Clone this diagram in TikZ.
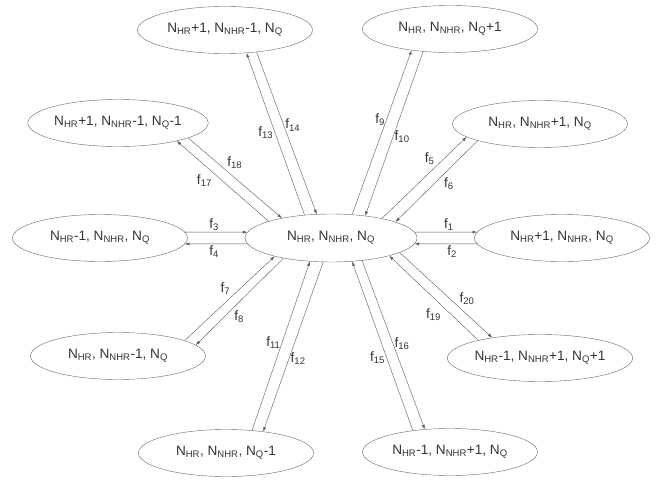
\documentclass[tikz,border=0pt]{standalone}
\usepackage{fontspec}
\setmainfont{Liberation Sans}
\usetikzlibrary{arrows.meta,shapes.geometric}
\newcommand{\NN}[3]{N\textsubscript{HR}#1, N\textsubscript{NHR}#2, N\textsubscript{Q}#3}
\newcommand{\ff}[1]{f\textsubscript{#1}}
\begin{document}
\begin{tikzpicture}[x=1pt,y=1pt,
    state/.style={draw=black!60,ellipse,minimum width=175pt,minimum height=47pt,inner sep=0pt,text=black!80,font=\fontsize{13.6}{15}\selectfont},
    flow/.style={draw=black!65,-{Latex[length=4.5pt,width=3pt]}},
    lbl/.style={text=black!80,font=\fontsize{13.6}{15}\selectfont,inner sep=1.5pt}]
    \useasboundingbox (0,0) rectangle (671,483);
    \node[state,minimum width=172pt,minimum height=48pt] (c) at (331,245) {\NN{}{}{}};
    \node[state] (tl) at (225,453) {\NN{+1}{-1}{}};
    \node[state] (tr) at (450,454) {\NN{}{}{+1}};
    \node[state] (ul) at (118,360) {\NN{+1}{-1}{-1}};
    \node[state] (ur) at (540,359) {\NN{}{+1}{}};
    \node[state] (l) at (100,245) {\NN{-1}{}{}};
    \node[state] (r) at (562,245) {\NN{+1}{}{}};
    \node[state] (ll) at (118,127) {\NN{}{-1}{}};
    \node[state] (bl) at (226,30) {\NN{}{}{-1}};
    \node[state] (lr) at (540,125) {\NN{-1}{+1}{+1}};
    \node[state] (br) at (450,31) {\NN{-1}{+1}{}};
    \draw[flow] (c.4) -- (r.176) node[lbl,pos=.55,above]{\ff{1}};
    \draw[flow] (r.-176) -- (c.-4) node[lbl,pos=.4,below]{\ff{2}};
    \draw[flow] (l.4) -- (c.176) node[lbl,pos=.47,above]{\ff{3}};
    \draw[flow] (c.-176) -- (l.-4) node[lbl,pos=.53,below]{\ff{4}};
    \draw[flow] (c.21) -- (ur.-170) node[lbl,pos=.64,above left]{\ff{5}};
    \draw[flow] (ur.-165) -- (c.14) node[lbl,pos=.43,below right]{\ff{6}};
    \draw[flow] (ll.13) -- (c.-162) node[lbl,pos=.525,above left]{\ff{7}};
    \draw[flow] (c.-157) -- (ll.8) node[lbl,pos=.58,below right]{\ff{8}};
    \draw[flow] (c.48) -- (tr.-151) node[lbl,pos=.58,left]{\ff{9}};
    \draw[flow] (tr.-140) -- (c.33) node[lbl,pos=.52,right]{\ff{10}};
    \draw[flow] (bl.41) -- (c.-132) node[lbl,pos=.52,left]{\ff{11}};
    \draw[flow] (c.-108) -- (bl.30) node[lbl,pos=.57,right]{\ff{12}};
    \draw[flow] (c.139) -- (tl.-47) node[lbl,pos=.51,left]{\ff{13}};
    \draw[flow] (tl.-35) -- (c.121) node[lbl,pos=.45,right]{\ff{14}};
    \draw[flow] (br.150) -- (c.-48) node[lbl,pos=.43,left]{\ff{15}};
    \draw[flow] (c.-36) -- (br.138) node[lbl,pos=.49,right]{\ff{16}};
    \draw[flow] (c.165) -- (ul.-17) node[lbl,pos=.6,below left]{\ff{17}};
    \draw[flow] (ul.-12) -- (c.158) node[lbl,pos=.4,above right]{\ff{18}};
    \draw[flow] (lr.164) -- (c.-17) node[lbl,pos=.4,below left]{\ff{19}};
    \draw[flow] (c.-12) -- (lr.157) node[lbl,pos=.63,above right]{\ff{20}};
\end{tikzpicture}
\end{document}
